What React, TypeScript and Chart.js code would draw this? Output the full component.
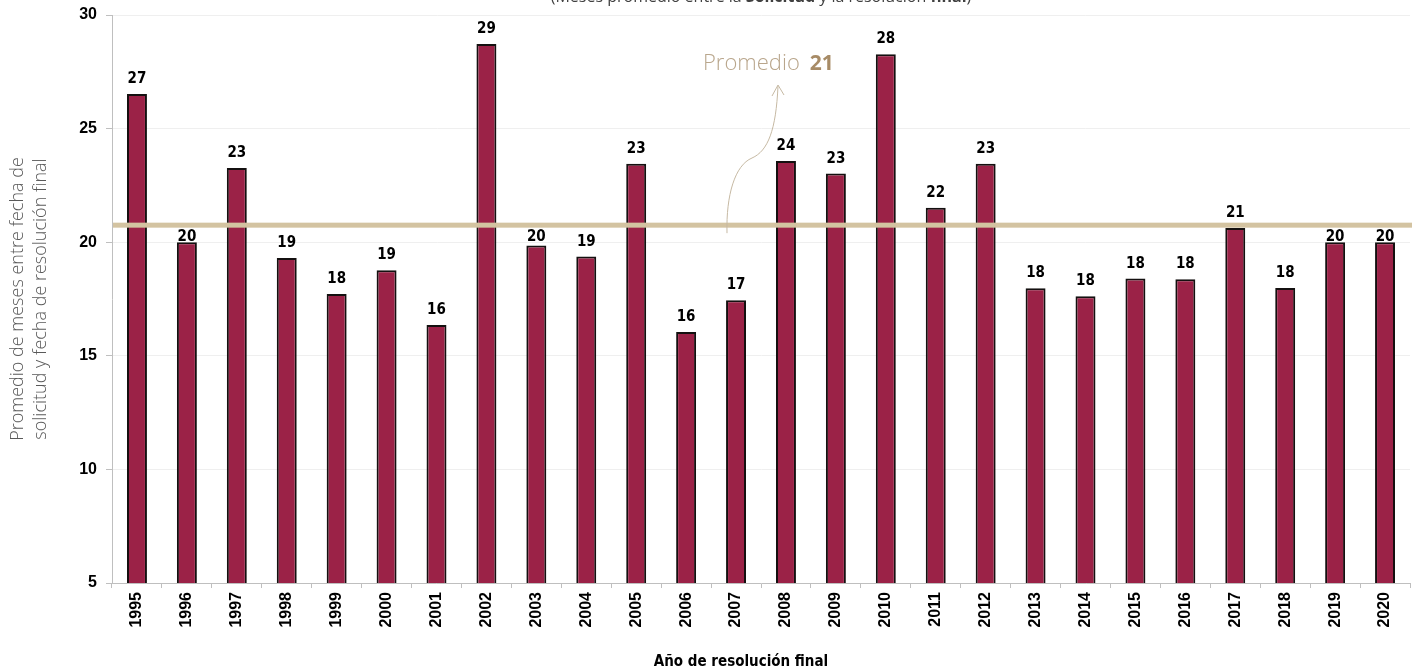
import React, { useEffect, useRef } from "react";
import { Chart, registerables } from "chart.js";

Chart.register(...registerables);

const YEARS = [
  "1995", "1996", "1997", "1998", "1999", "2000", "2001", "2002", "2003", "2004",
  "2005", "2006", "2007", "2008", "2009", "2010", "2011", "2012", "2013", "2014",
  "2015", "2016", "2017", "2018", "2019", "2020",
];
const MONTHS = [
  26.52, 20.0, 23.27, 19.3, 17.72, 18.77, 16.36, 28.72, 19.86, 19.37,
  23.45, 16.05, 17.45, 23.57, 23.02, 28.27, 21.52, 23.45, 17.97, 17.62,
  18.4, 18.37, 20.63, 17.98, 20.0, 20.0,
];
const AVERAGE = 20.75;
const Y_TICKS = [5, 10, 15, 20, 25, 30];

const TITLE_PARTS: [string, boolean][] = [
  ["(Meses promedio entre la ", false],
  ["Solicitud", true],
  [" y la resolución ", false],
  ["final", true],
  [")", false],
];
const Y_TITLE = ["Promedio de meses entre fecha de", "solicitud y fecha de resolución final"];
const X_TITLE = "Año de resolución final";
const AVG_LABEL = "Promedio";

const BOLD = "'Liberation Sans', 'DejaVu Sans', sans-serif";
const NARROW = "'Liberation Sans Narrow', 'DejaVu Sans Condensed', 'Liberation Sans', sans-serif";
const LIGHT = "'Open Sans', 'Lato', sans-serif";

const extras = {
  id: "extras",
  afterDatasetsDraw(chart: any) {
    const ctx = chart.ctx as CanvasRenderingContext2D;
    const y = chart.scales.y;
    const area = chart.chartArea;
    const avgY = y.getPixelForValue(AVERAGE);
    const half = 2.5;

    // average line
    ctx.save();
    ctx.fillStyle = "#d3c3a1";
    ctx.fillRect(area.left + 1, avgY - half, area.right - area.left + 1, half * 2);
    ctx.restore();

    // data labels
    const meta = chart.getDatasetMeta(0);
    ctx.save();
    ctx.font = `bold 15px ${NARROW}`;
    ctx.fillStyle = "#000";
    ctx.textAlign = "center";
    ctx.textBaseline = "alphabetic";
    const capH = 11;
    meta.data.forEach((bar: any, i: number) => {
      let base = bar.y - 11;
      if (base >= avgY - half && base - capH <= avgY + half) {
        base = avgY + half + 1 + capH + 1;
      }
      ctx.fillText(String(Math.round(MONTHS[i])), bar.x, base);
    });
    ctx.restore();
  },
  afterDraw(chart: any) {
    const ctx = chart.ctx as CanvasRenderingContext2D;
    const area = chart.chartArea;
    const y = chart.scales.y;
    const avgY = y.getPixelForValue(AVERAGE);

    // partially visible title at top
    ctx.save();
    ctx.fillStyle = "#404040";
    ctx.textBaseline = "alphabetic";
    let total = 0;
    TITLE_PARTS.forEach(([t, b]) => {
      ctx.font = `${b ? "bold " : ""}16px ${LIGHT}`;
      total += ctx.measureText(t).width;
    });
    let tx = (area.left + area.right) / 2 - total / 2;
    TITLE_PARTS.forEach(([t, b]) => {
      ctx.font = `${b ? "bold " : ""}16px ${LIGHT}`;
      ctx.fillText(t, tx, 2);
      tx += ctx.measureText(t).width;
    });
    ctx.restore();

    // x axis title
    ctx.save();
    ctx.font = `bold 15px ${NARROW}`;
    ctx.fillStyle = "#000";
    ctx.textAlign = "center";
    ctx.textBaseline = "alphabetic";
    ctx.fillText(X_TITLE, 741, 666);
    ctx.restore();

    // annotation text
    ctx.save();
    ctx.textBaseline = "alphabetic";
    ctx.font = `300 22px ${LIGHT}`;
    ctx.fillStyle = "#b9a68c";
    ctx.fillText(AVG_LABEL, 703, 70);
    const w = ctx.measureText(AVG_LABEL).width;
    ctx.font = `bold 21px ${LIGHT}`;
    ctx.fillStyle = "#a78b66";
    ctx.fillText(String(Math.round(AVERAGE)), 703 + w + 10, 70);
    ctx.restore();

    // curved arrow
    ctx.save();
    ctx.strokeStyle = "#c6b9a3";
    ctx.lineWidth = 1;
    ctx.beginPath();
    ctx.moveTo(727, avgY + 8);
    ctx.bezierCurveTo(726, 195, 735, 165, 752, 158);
    ctx.bezierCurveTo(768, 151, 776, 130, 778, 86);
    ctx.stroke();
    ctx.beginPath();
    ctx.moveTo(772, 96);
    ctx.lineTo(778, 85);
    ctx.lineTo(784, 95);
    ctx.stroke();
    ctx.restore();
  },
};

export default function App() {
  const ref = useRef<HTMLCanvasElement | null>(null);

  useEffect(() => {
    document.body.style.margin = "0";
    const canvas = ref.current;
    if (!canvas) return;
    const chart = new Chart(canvas, {
      type: "bar",
      data: {
        labels: YEARS,
        datasets: [
          {
            data: MONTHS,
            backgroundColor: "#9b2247",
            borderColor: "#141010",
            borderWidth: 2,
            barPercentage: 0.8,
            categoryPercentage: 0.5,
          },
        ],
      },
      options: {
        responsive: false,
        animation: false,
        devicePixelRatio: 1,
        layout: { padding: { left: 0, right: 12, top: 15, bottom: 0 } },
        plugins: {
          legend: { display: false },
          tooltip: { enabled: false },
          title: { display: false },
        },
        scales: {
          x: {
            grid: {
              offset: true,
              drawOnChartArea: false,
              tickLength: 5,
              tickColor: "#bfbfbf",
            },
            border: { color: "#bfbfbf" },
            ticks: {
              autoSkip: false,
              minRotation: 90,
              maxRotation: 90,
              padding: 4,
              color: "#000",
              font: { family: BOLD, size: 16, weight: "bold" },
            },
            afterFit(scale: any) {
              scale.height = 88;
            },
          },
          y: {
            min: Y_TICKS[0],
            max: Y_TICKS[Y_TICKS.length - 1],
            ticks: {
              stepSize: Y_TICKS[1] - Y_TICKS[0],
              padding: 9,
              color: "#000",
              font: { family: BOLD, size: 16, weight: "bold" },
            },
            grid: {
              color: "#efefef",
              tickColor: "#bfbfbf",
              tickLength: 6,
            },
            border: { color: "#bfbfbf" },
            title: {
              display: true,
              text: Y_TITLE,
              color: "#595959",
              font: { family: LIGHT, size: 18, weight: "300", lineHeight: 1.25 },
              padding: { top: 7, bottom: 0 },
            },
            afterFit(scale: any) {
              scale.width = 112;
              scale.paddingTop = 0;
              scale.paddingBottom = 0;
            },
          },
        },
      },
      plugins: [extras],
    });
    return () => chart.destroy();
  }, []);

  return (
    <div style={{ width: 1422, height: 671 }}>
      <canvas ref={ref} width={1422} height={671} style={{ display: "block" }} />
    </div>
  );
}
